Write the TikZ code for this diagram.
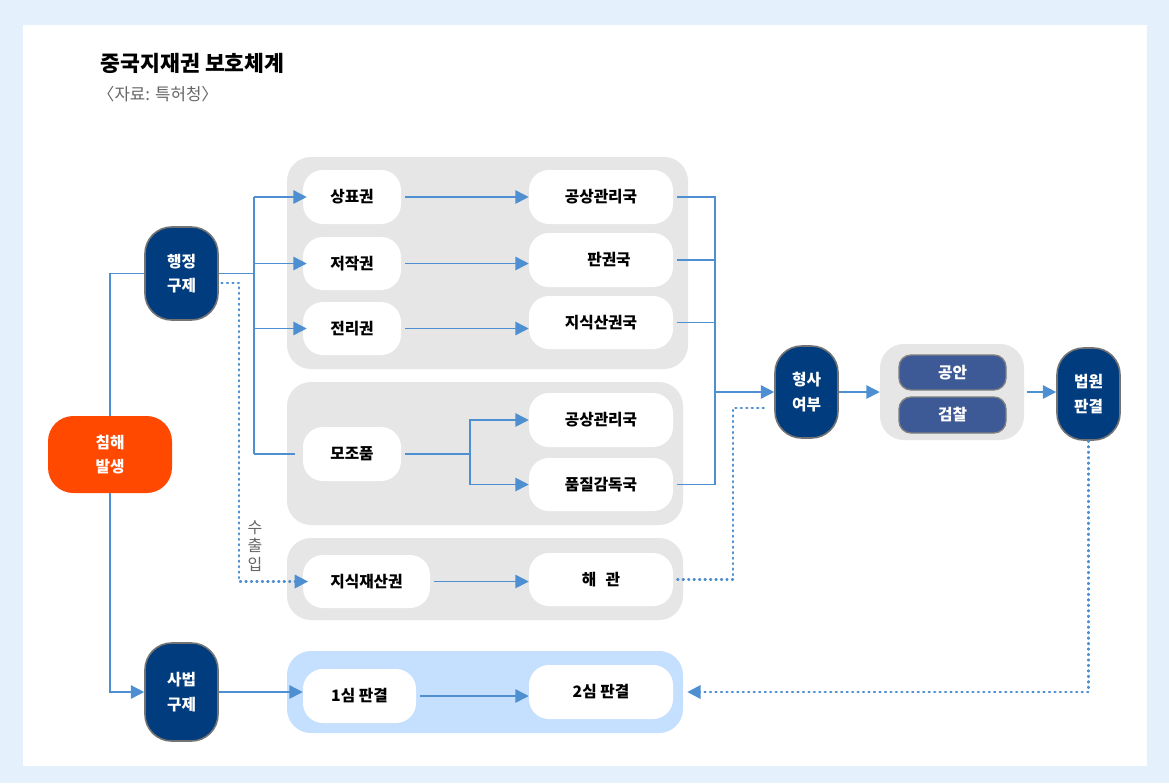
\documentclass[tikz,border=0pt]{standalone}
\usepackage{fontspec}
\setmainfont{Noto Sans CJK KR}
\usetikzlibrary{arrows.meta}
\definecolor{bgblue}{HTML}{E4F0FC}
\definecolor{lineblue}{HTML}{4D8FD0}
\definecolor{navy}{HTML}{003C7E}
\definecolor{orangered}{HTML}{FF4800}
\definecolor{grp}{HTML}{E6E6E6}
\definecolor{grpblue}{HTML}{C4E0FE}
\definecolor{midblue}{HTML}{3E5A96}
\definecolor{txtgray}{HTML}{666666}
\newcommand\boxat[6]{\node[#1, minimum width={(#4-#2)*0.75pt}, minimum height={(#5-#3)*0.75pt}] (#6) at ({(#2+#4)/2},{(#3+#5)/2})}
\tikzset{
  grpbox/.style={fill=grp, rounded corners=18pt, inner sep=0pt},
  wbox/.style={fill=white, rounded corners=15pt, inner sep=0pt, font=\bfseries\fontsize{11.8pt}{13pt}\selectfont},
  navybox/.style={fill=navy, draw=black!55, line width=1.2pt, rounded corners=20pt, text=white, align=center, inner sep=0pt, font=\bfseries\fontsize{11.8pt}{18.5pt}\selectfont},
  orbox/.style={fill=orangered, rounded corners=19pt, text=white, align=center, inner sep=0pt, font=\bfseries\fontsize{11.8pt}{18.5pt}\selectfont},
  smallbox/.style={fill=midblue, draw=black!50, line width=1pt, rounded corners=9pt, text=white, inner sep=0pt, font=\bfseries\fontsize{11.8pt}{13pt}\selectfont},
  conn/.style={draw=lineblue, line width=1.15pt},
  arr/.style={conn, -{Triangle[length=10pt,width=10pt]}},
  dots/.style={draw=lineblue, line width=1.7pt, line cap=round, dash pattern=on 0.8pt off 3.3pt},
  dotarr/.style={dots, -{Triangle[length=10pt,width=10pt]}},
}
\begin{document}
\begin{tikzpicture}[x=0.75pt,y=-0.75pt]
\useasboundingbox (0,0) rectangle (1169,783);
\fill[bgblue] (0,0) rectangle (1169,783);
\fill[white] (23,25) rectangle (1147,766);

\node[anchor=west, font=\bfseries\fontsize{16.2pt}{18pt}\selectfont] (title) at (96,63) {중국지재권 보호체계};
\node[anchor=west, text=txtgray, font=\fontsize{12.6pt}{14pt}\selectfont] (src) at (93,94) {〈자료: 특허청〉};

% groups
\boxat{grpbox}{287}{157}{688}{369}{g1} {};
\boxat{grpbox}{287}{382}{683}{525}{g2} {};
\boxat{grpbox}{287}{538}{683}{620}{g3} {};
\boxat{grpbox, fill=grpblue}{287}{651}{683}{733}{g4} {};
\boxat{grpbox}{880}{344}{1024}{440}{g5} {};

% white boxes
\boxat{wbox}{303}{170}{401}{224}{a1} {상표권};
\boxat{wbox}{303}{237}{401}{290}{a2} {저작권};
\boxat{wbox}{303}{302}{401}{355}{a3} {전리권};
\boxat{wbox}{529}{170}{673}{224}{b1} {공상관리국};
\boxat{wbox}{529}{233}{673}{287}{b2} {\hspace*{12pt}판권국};
\boxat{wbox}{529}{296}{673}{349}{b3} {지식산권국};
\boxat{wbox}{303}{427}{401}{481}{mz} {모조품};
\boxat{wbox}{529}{393}{673}{447}{d1} {공상관리국};
\boxat{wbox}{529}{458}{673}{511}{d2} {품질감독국};
\boxat{wbox}{303}{555}{430}{608}{c1} {지식재산권};
\boxat{wbox}{529}{553}{673}{606}{c2} {해\hspace{0.6em}관};
\boxat{wbox}{303}{669}{416}{723}{e1} {1심 판결};
\boxat{wbox}{529}{665}{673}{719}{e2} {2심 판결};

% small boxes
\boxat{smallbox}{899}{355}{1006}{390}{ga} {공안};
\boxat{smallbox}{899}{397}{1006}{433}{gc} {검찰};

% main boxes
\boxat{orbox}{48}{416}{172}{493}{cb} {침해\\발생};
\boxat{navybox}{145}{227}{218}{320}{hj} {행정\\구제};
\boxat{navybox}{145}{643}{218}{741}{sb} {사법\\구제};
\boxat{navybox}{775}{346}{838}{438}{hs} {형사\\여부};
\boxat{navybox}{1057}{348}{1120}{440}{bw} {법원\\판결};

\node[text=txtgray, align=center, font=\fontsize{12pt}{14pt}\selectfont] (sci) at (255,546) {수\\출\\입};

% coordinates
\coordinate (sp) at (254,272);
\coordinate (rs) at (715,392);
\coordinate (ms) at (470,456);
\coordinate (dx) at (239,283);
\coordinate (dx2) at (733,408);

% connectors
\draw[conn] (cb.north) |- (hj.west);
\draw[arr] (cb.south) |- (sb.west);
\draw[conn] (hj.east) -- (hj.east -| sp);
\draw[conn] (sp |- a1.west) -- (sp |- mz.west);
\draw[arr] (sp |- a1.west) -- ([xshift=3pt]a1.west);
\draw[arr] (sp |- a2.west) -- ([xshift=3pt]a2.west);
\draw[arr] (sp |- a3.west) -- ([xshift=3pt]a3.west);
\draw[conn] (sp |- mz.west) -- ([xshift=-6pt]mz.west);

\draw[arr] ([xshift=3pt]a1.east) -- (a1.east -| b1.west);
\draw[arr] ([xshift=3pt]a2.east) -- (a2.east -| b2.west);
\draw[arr] ([xshift=3pt]a3.east) -- (a3.east -| b3.west);

\draw[conn] ([xshift=3pt]b1.east) -- (b1.east -| rs) -- (d2.east -| rs) -- ([xshift=3pt]d2.east);
\draw[conn] ([xshift=3pt]b2.east) -- (b2.east -| rs);
\draw[conn] ([xshift=3pt]b3.east) -- (b3.east -| rs);
\draw[arr] (rs) -- (rs -| hs.west);

\draw[conn] ([xshift=3pt]mz.east) -- (mz.east -| ms);
\draw[arr] (mz.east -| ms) |- (d1.west);
\draw[arr] (mz.east -| ms) |- (d2.west);

\draw[arr] ([xshift=3pt]c1.east) -- (c1.east -| c2.west);

\draw[dotarr] ([xshift=2pt]hj.east |- dx) -- (dx) -- (dx |- c1.west) -- ([xshift=4pt]c1.west);
\draw[dots] ([xshift=3pt]c2.east) -| (dx2) -- ([xshift=-5pt]dx2 -| hs.west);

\draw[arr] (hs.east) -- (hs.east -| g5.west);
\draw[arr] ([xshift=2pt]g5.east) -- (g5.east -| bw.west);
\draw[dotarr] (bw.south) |- ([xshift=3pt]g4.east);

\draw[arr] (sb.east) -- (sb.east -| e1.west);
\draw[arr] ([xshift=3pt]e1.east) -- (e1.east -| e2.west);
\end{tikzpicture}
\end{document}
